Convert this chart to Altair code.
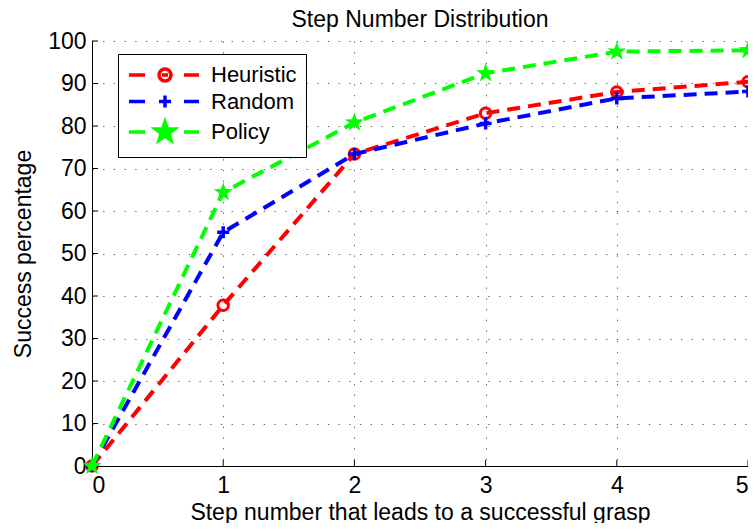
import altair as alt
import pandas as pd

# ---- data ----
steps = [0, 1, 2, 3, 4, 5]
heuristic = [0, 37.8, 73.4, 83.0, 88.0, 90.4]
random_vals = [0, 55.0, 73.4, 80.6, 86.5, 88.1]
policy = [0, 64.4, 80.8, 92.4, 97.5, 97.8]
series_names = ["Heuristic", "Random", "Policy"]
series_colors = ["#ff0000", "#0000ff", "#00ff00"]
x_ticks = [0, 1, 2, 3, 4, 5]
y_ticks = [0, 10, 20, 30, 40, 50, 60, 70, 80, 90, 100]

W, H = 656, 425
FONT = "Liberation Sans"

rows = []
for name, vals in zip(series_names, [heuristic, random_vals, policy]):
    for s, v in zip(steps, vals):
        rows.append({"series": name, "step": s, "value": v})
df = pd.DataFrame(rows)

xscale = alt.Scale(domain=[0, 5], nice=False, zero=False)
yscale = alt.Scale(domain=[0, 100], nice=False)

xenc = alt.X("step:Q", scale=xscale,
             axis=alt.Axis(values=x_ticks, title="Step number that leads to a successful grasp",
                           format="d", grid=True, ticks=False, labelPadding=8,
                           titleBaseline="alphabetic", titleY=53))
yenc = alt.Y("value:Q", scale=yscale,
             axis=alt.Axis(values=y_ticks, title="Success percentage", format="d",
                           grid=True, ticks=False, labelPadding=6,
                           titleBaseline="alphabetic", titleX=-62, titleAngle=270))

STAR = ("M0,-1L0.2351,-0.3236L0.9511,-0.309L0.3804,0.1236L0.5878,0.809L0,0.4"
        "L-0.5878,0.809L-0.3804,0.1236L-0.9511,-0.309L-0.2351,-0.3236Z")
PLUS = "M-1,0L1,0M0,-1L0,1"

# legend symbols: dashed line segments + marker, centred at 2.6 units
DASHES = "M-1,0L0.6,0M2.3,0L2.9,0M4.5,0L6,0"
LEG_CIRCLE = DASHES + ("M3.2,0C3.2,0.3314 2.9314,0.6 2.6,0.6C2.2686,0.6 2.0,0.3314 2.0,0"
                       "C2.0,-0.3314 2.2686,-0.6 2.6,-0.6C2.9314,-0.6 3.2,-0.3314 3.2,0Z")
LEG_PLUS = DASHES + "M2.0,0L3.2,0M2.6,-0.6L2.6,0.6"
LEG_STAR = DASHES + ("M2.6,-1L2.8351,-0.3236L3.5511,-0.309L2.9804,0.1236L3.1878,0.809L2.6,0.4"
                     "L2.0122,0.809L2.2196,0.1236L1.6489,-0.309L2.3649,-0.3236Z")

base = alt.Chart(df)

layers = []
# axis layer (invisible line) carrying the axes
layers.append(base.mark_line(opacity=0).encode(x=xenc, y=yenc))

# inward tick marks
ytick_df = pd.DataFrame({"v": y_ticks})
xtick_df = pd.DataFrame({"s": x_ticks})
layers.append(alt.Chart(ytick_df).mark_rule(color="black", strokeWidth=1).encode(
    y=alt.Y("v:Q", scale=yscale), x=alt.value(0), x2=alt.value(6)))
layers.append(alt.Chart(xtick_df).mark_rule(color="black", strokeWidth=1).encode(
    x=alt.X("s:Q", scale=xscale), y=alt.value(H), y2=alt.value(H - 6)))

for name, col in zip(series_names, series_colors):
    sub = base.transform_filter(alt.datum.series == name)
    layers.append(sub.mark_line(color=col, strokeWidth=4, strokeDash=[13, 8]).encode(
        x=alt.X("step:Q", scale=xscale), y=alt.Y("value:Q", scale=yscale)))
    if name == "Heuristic":
        m = sub.mark_point(shape="circle", size=110, filled=False, color=col,
                           strokeWidth=3, opacity=1)
    elif name == "Random":
        m = sub.mark_point(shape=PLUS, size=144, filled=False, color=col,
                           strokeWidth=3.5, opacity=1)
    else:
        m = sub.mark_point(shape=STAR, size=400, filled=True, color=col, opacity=1)
    layers.append(m.encode(x=alt.X("step:Q", scale=xscale), y=alt.Y("value:Q", scale=yscale)))

# legend-only layer (no data drawn)
leg_kw = dict(title=None, orient="none", legendX=26, legendY=13,
              strokeColor="black", fillColor="white", padding=9,
              symbolSize=400, symbolStrokeWidth=3.5, labelOffset=60,
              labelFontSize=22, labelFont=FONT, labelColor="black",
              rowPadding=0.5, cornerRadius=0, symbolOpacity=1)
legend_layer = base.transform_filter("false").mark_point(opacity=1, size=400, strokeWidth=3.5).encode(
    x=alt.X("step:Q", scale=xscale), y=alt.Y("value:Q", scale=yscale),
    shape=alt.Shape("series:N", scale=alt.Scale(domain=series_names,
                                                 range=[LEG_CIRCLE, LEG_PLUS, LEG_STAR]),
                    legend=alt.Legend(**leg_kw)),
    stroke=alt.Stroke("series:N", scale=alt.Scale(domain=series_names, range=series_colors),
                      legend=alt.Legend(**leg_kw)),
    fill=alt.Fill("series:N", scale=alt.Scale(domain=series_names,
                                               range=["transparent", "transparent", "#00ff00"]),
                  legend=alt.Legend(**leg_kw)),
)
layers.append(legend_layer)

chart = alt.layer(*layers).properties(
    width=W, height=H,
    title=alt.TitleParams("Step Number Distribution", font=FONT, fontSize=23,
                          fontWeight="normal", color="black", baseline="alphabetic",
                          offset=-20, anchor="middle"),
    autosize=alt.AutoSizeParams(type="none"),
    padding={"left": 84, "top": 33, "right": 0, "bottom": 57},
).configure_view(stroke=None).configure_axis(
    labelFont=FONT, labelFontSize=23, labelColor="black",
    titleFont=FONT, titleFontSize=23, titleFontWeight="normal", titleColor="black",
    domainColor="black", domainWidth=1,
    gridColor="#333333", gridDash=[1.3, 9.4], gridWidth=1, gridOpacity=0.8,
)

chart.save("out.html", embed_options={"renderer": "svg", "actions": False})
